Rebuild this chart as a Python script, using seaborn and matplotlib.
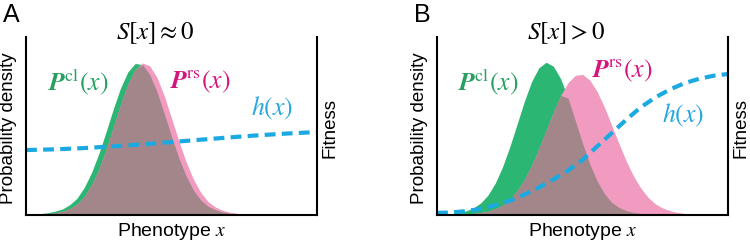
import numpy as np
import seaborn as sns
import matplotlib
import matplotlib.pyplot as plt

matplotlib.use('agg')

# phenotype grid (arbitrary units)
phenotype = np.arange(0, 10.01, 0.25)

# panel A: S[x] ~ 0
green_a = [0.003, 0.005, 0.008, 0.013, 0.022, 0.034, 0.058, 0.094, 0.155, 0.238, 0.344,
           0.467, 0.596, 0.714, 0.804, 0.851, 0.845, 0.789, 0.692, 0.570, 0.441, 0.321,
           0.219, 0.141, 0.085, 0.050, 0.030, 0.017, 0.010, 0.006, 0.004, 0.002, 0.001,
           0, 0, 0, 0, 0, 0, 0, 0]
pink_a = [0.002, 0.003, 0.005, 0.008, 0.012, 0.021, 0.036, 0.061, 0.105, 0.169, 0.257,
          0.367, 0.493, 0.621, 0.735, 0.817, 0.854, 0.838, 0.773, 0.669, 0.544, 0.416,
          0.299, 0.202, 0.128, 0.076, 0.046, 0.027, 0.016, 0.010, 0.006, 0.004, 0.002,
          0.001, 0, 0, 0, 0, 0, 0, 0]

# panel B: S[x] > 0
green_b = [0.003, 0.005, 0.008, 0.013, 0.024, 0.040, 0.068, 0.112, 0.179, 0.270, 0.383,
           0.510, 0.638, 0.750, 0.827, 0.858, 0.835, 0.765, 0.657, 0.531, 0.403, 0.287,
           0.192, 0.121, 0.071, 0.043, 0.025, 0.015, 0.009, 0.005, 0.003, 0.001, 0,
           0, 0, 0, 0, 0, 0, 0, 0]
pink_b = [0.001, 0.002, 0.003, 0.004, 0.006, 0.009, 0.014, 0.022, 0.035, 0.055, 0.088,
          0.136, 0.199, 0.279, 0.373, 0.476, 0.579, 0.672, 0.743, 0.784, 0.790, 0.758,
          0.694, 0.607, 0.505, 0.402, 0.304, 0.220, 0.152, 0.100, 0.063, 0.040, 0.025,
          0.015, 0.009, 0.005, 0.003, 0.002, 0.001, 0, 0]

# fitness h(x)
fit_x_a = np.arange(0, 10.01, 1.0)
fit_a = [0.365, 0.369, 0.376, 0.386, 0.397, 0.410, 0.423, 0.436, 0.448, 0.458, 0.466]
fit_x_b = np.arange(0, 10.01, 0.5)
fit_b = [0.012, 0.015, 0.022, 0.035, 0.055, 0.080, 0.115, 0.155, 0.200, 0.250, 0.310,
         0.385, 0.460, 0.535, 0.605, 0.660, 0.705, 0.740, 0.765, 0.782, 0.792]

green = '#2bb673'
pink = '#f29bc1'
overlap = '#a3868a'
blue = '#1ba9e1'

sns.set_theme(style='white')
plt.rcParams['font.family'] = ['Liberation Sans', 'DejaVu Sans']
plt.rcParams['mathtext.fontset'] = 'stix'

fig = plt.figure(figsize=(7.5, 2.43), dpi=100)
ax_a = fig.add_axes([0.0347, 0.115, 0.388, 0.733])
ax_b = fig.add_axes([0.5827, 0.115, 0.388, 0.733])

panels = [
    (ax_a, 'A', r'$S[x] \approx 0$', green_a, pink_a, fit_x_a, fit_a,
     (0.179, 0.747), (0.598, 0.747), (0.845, 0.60)),
    (ax_b, 'B', r'$S[x] > 0$', green_b, pink_b, fit_x_b, fit_b,
     (0.175, 0.747), (0.636, 0.809), (0.845, 0.56)),
]

for ax, letter, title, g, p, hx, h, pos_cl, pos_rs, pos_h in panels:
    g = np.array(g)
    p = np.array(p)
    ax.fill_between(phenotype, 0, g, color=green, lw=0)
    ax.fill_between(phenotype, 0, p, color=pink, lw=0)
    ax.fill_between(phenotype, 0, np.minimum(g, p), color=overlap, lw=0)
    sns.lineplot(x=hx, y=h, ax=ax, color=blue, lw=3, linestyle=(0, (2.6, 1.5)),
                 clip_on=False)

    ax.set_xlim(0, 10)
    ax.set_ylim(0, 1)
    ax.set_xticks([])
    ax.set_yticks([])
    for side in ['left', 'bottom', 'right']:
        ax.spines[side].set_color('black')
        ax.spines[side].set_linewidth(1.5)
    ax.spines['top'].set_visible(False)

    ax.text(-0.06, 0.49, 'Probability density', transform=ax.transAxes, rotation=90,
            ha='center', va='center', fontsize=13.5, color='black')
    ax.text(1.045, 0.49, 'Fitness', transform=ax.transAxes, rotation=90,
            ha='center', va='center', fontsize=13.5, color='black')
    ax.text(0.50, -0.09, r'Phenotype $x$', transform=ax.transAxes,
            ha='center', va='center', fontsize=14, color='black')
    ax.text(-0.05, 1.125, letter, transform=ax.transAxes, ha='center', va='center',
            fontsize=18, color='black')
    ax.text(0.443, 1.02, title, transform=ax.transAxes, ha='center', va='center',
            fontsize=18, color='black')

    ax.text(*pos_cl, r'$\mathbfit{P}^{\rm cl}(x)$', transform=ax.transAxes,
            ha='center', va='center', fontsize=18.5, color='#27a062')
    ax.text(*pos_rs, r'$\mathbfit{P}^{\rm rs}(x)$', transform=ax.transAxes,
            ha='center', va='center', fontsize=18.5, color='#d4157f')
    ax.text(*pos_h, r'$h(x)$', transform=ax.transAxes,
            ha='center', va='center', fontsize=18.5, color='#27a7dd')

fig.savefig('out.png', dpi=100)
